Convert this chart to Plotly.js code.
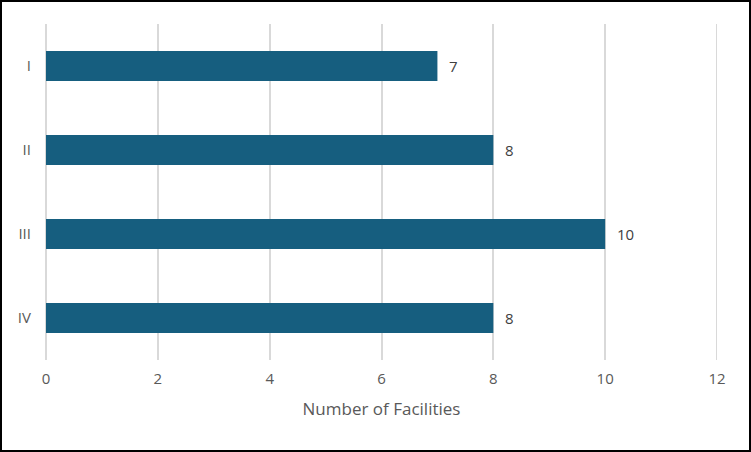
<!DOCTYPE html>
<html>
<head>
<meta charset="utf-8">
<script src="https://cdn.plot.ly/plotly-3.0.1.min.js"></script>
<style>
html,body{margin:0;padding:0;background:#fff;}
#wrap{width:751px;height:452px;box-sizing:border-box;border:2px solid #000;background:#fff;}
#chart{width:747px;height:448px;}
</style>
</head>
<body>
<div id="wrap"><div id="chart"></div></div>
<script>
const categories = ["I", "II", "III", "IV"];
const values = [7, 8, 10, 8];
const xTicks = [0, 2, 4, 6, 8, 10, 12];
const xTitle = "Number of Facilities";

const font = "Open Sans, sans-serif";

const trace = {
  type: "bar",
  orientation: "h",
  y: categories,
  x: values,
  marker: {color: "#165E7F"},
  hoverinfo: "x+y"
};

const annotations = values.map((v, i) => ({
  x: v, y: categories[i], xref: "x", yref: "y",
  text: String(v), showarrow: false, xanchor: "left", xshift: 10,
  font: {family: font, size: 15, color: "#404040"}
}));

const xMax = xTicks[xTicks.length - 1];

const layout = {
  width: 747, height: 448,
  margin: {l: 44, r: 32, t: 22, b: 90},
  paper_bgcolor: "#fff", plot_bgcolor: "#fff",
  bargap: 0.64,
  showlegend: false,
  font: {family: font, size: 15, color: "#595959"},
  xaxis: {
    range: [0, xMax],
    tickvals: xTicks,
    showgrid: true, gridcolor: "#d9d9d9", gridwidth: 2,
    zeroline: true, zerolinecolor: "#d9d9d9", zerolinewidth: 2,
    showline: false,
    ticks: "", ticklabelstandoff: 8,
    tickfont: {family: font, size: 15, color: "#595959"},
    title: {text: xTitle, font: {family: font, size: 17, color: "#595959"}, standoff: 16}
  },
  yaxis: {
    categoryorder: "array", categoryarray: categories,
    autorange: "reversed",
    showgrid: false, zeroline: false, showline: false,
    ticks: "", ticklabelstandoff: 14,
    tickfont: {family: font, size: 15, color: "#595959"}
  },
  shapes: [{
    type: "line", xref: "x", yref: "paper",
    x0: xMax, x1: xMax, y0: 0, y1: 1,
    line: {color: "#d9d9d9", width: 2}, layer: "below"
  }],
  annotations: annotations
};

Plotly.newPlot("chart", [trace], layout, {displayModeBar: false, staticPlot: true});
</script>
</body>
</html>
